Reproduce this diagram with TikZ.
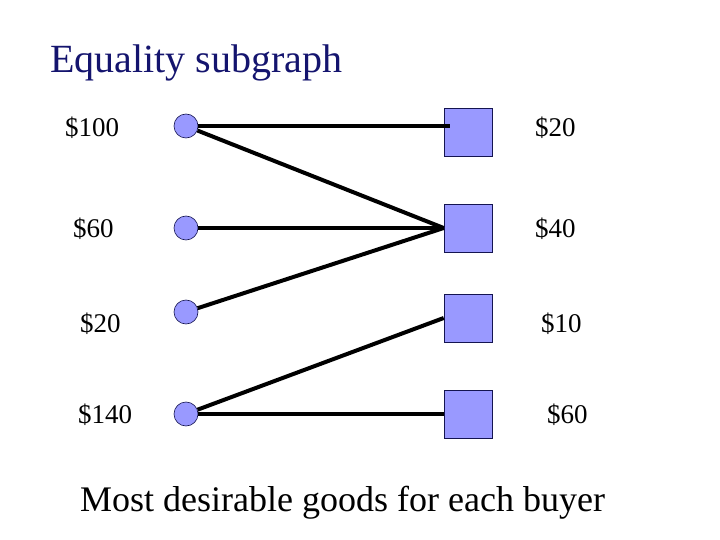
\documentclass[tikz,border=0pt]{standalone}
\usepackage{fontspec}
\setmainfont{Liberation Serif}
\usepackage{tikz}
\usetikzlibrary{calc, positioning}
\definecolor{titleBlue}{RGB}{20,20,110}
\definecolor{nodeBlue}{RGB}{153,153,255}
\definecolor{edgeNavy}{RGB}{20,20,80}

\begin{document}
\begin{tikzpicture}[x=1pt, y=-1pt,
    buyer/.style={circle, draw=edgeNavy, line width=0.6pt, fill=nodeBlue, minimum size=24pt, inner sep=0pt},
    good/.style={rectangle, draw=edgeNavy, line width=0.6pt, fill=nodeBlue, minimum size=48pt, inner sep=0pt},
    price/.style={anchor=base west, inner sep=0pt, font=\fontsize{27}{32}\selectfont},
    match/.style={line width=4pt, black}]
    \useasboundingbox (0,0) rectangle (720,540);

    \node[anchor=base west, inner sep=0pt, text=titleBlue, font=\fontsize{40}{48}\selectfont] (title) at (50,73) {Equality subgraph};

    % buyers
    \node[buyer] (b1) at (186,126) {};
    \node[buyer] (b2) at (186,228) {};
    \node[buyer] (b3) at (186,312) {};
    \node[buyer] (b4) at (186,414) {};

    % goods
    \node[good] (g1) at (468,132) {};
    \node[good] (g2) at (468,228) {};
    \node[good] (g3) at (468,318) {};
    \node[good] (g4) at (468,414) {};

    \node[price] (v1) at (65,137) {\$100};
    \node[price] (v2) at (73,237) {\$60};
    \node[price] (v3) at (80,332) {\$20};
    \node[price] (v4) at (78,423) {\$140};

    \node[price] (p1) at (535,137) {\$20};
    \node[price] (p2) at (535,237) {\$40};
    \node[price] (p3) at (541,332) {\$10};
    \node[price] (p4) at (547,423) {\$60};

    \coordinate (e1) at ($(g1.west |- b1)+(6,0)$);
    \draw[match] (b1) -- (e1);
    \draw[match] (b1) -- (g2.west);
    \draw[match] (b2) -- (g2.west);
    \draw[match] (b3) -- (g2.west);
    \draw[match] (b4) -- (g3.west);
    \draw[match] (b4) -- (g4.west);

    \node[anchor=base west, inner sep=0pt, font=\fontsize{36}{43}\selectfont] (caption) at (80,511) {Most desirable goods for each buyer};
\end{tikzpicture}
\end{document}
